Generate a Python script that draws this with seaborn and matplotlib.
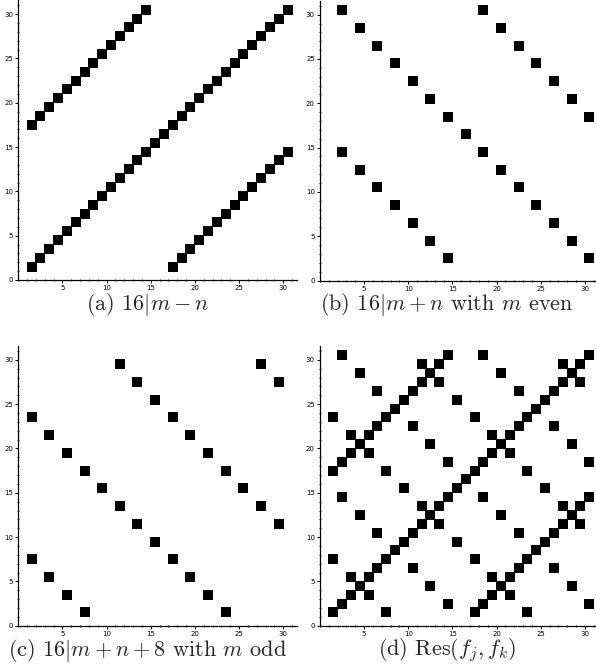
import matplotlib
matplotlib.use("Agg")
import matplotlib.pyplot as plt
import seaborn as sns
import pandas as pd
from matplotlib.ticker import MultipleLocator

# ---- data: (m, n) cells ----
a_m = [1, 2, 3, 4, 5, 6, 7, 8, 9, 10, 11, 12, 13, 14, 15, 16, 17, 18, 19, 20,
       21, 22, 23, 24, 25, 26, 27, 28, 29, 30,
       1, 2, 3, 4, 5, 6, 7, 8, 9, 10, 11, 12, 13, 14,
       17, 18, 19, 20, 21, 22, 23, 24, 25, 26, 27, 28, 29, 30]
a_n = [1, 2, 3, 4, 5, 6, 7, 8, 9, 10, 11, 12, 13, 14, 15, 16, 17, 18, 19, 20,
       21, 22, 23, 24, 25, 26, 27, 28, 29, 30,
       17, 18, 19, 20, 21, 22, 23, 24, 25, 26, 27, 28, 29, 30,
       1, 2, 3, 4, 5, 6, 7, 8, 9, 10, 11, 12, 13, 14]

b_m = [2, 4, 6, 8, 10, 12, 14, 16, 18, 20, 22, 24, 26, 28, 30,
       2, 4, 6, 8, 10, 12, 14,
       18, 20, 22, 24, 26, 28, 30]
b_n = [30, 28, 26, 24, 22, 20, 18, 16, 14, 12, 10, 8, 6, 4, 2,
       14, 12, 10, 8, 6, 4, 2,
       30, 28, 26, 24, 22, 20, 18]

c_m = [1, 3, 5, 7,
       1, 3, 5, 7, 9, 11, 13, 15, 17, 19, 21, 23,
       11, 13, 15, 17, 19, 21, 23, 25, 27, 29,
       27, 29]
c_n = [7, 5, 3, 1,
       23, 21, 19, 17, 15, 13, 11, 9, 7, 5, 3, 1,
       29, 27, 25, 23, 21, 19, 17, 15, 13, 11,
       29, 27]

d_m = a_m + b_m + c_m
d_n = a_n + b_n + c_n

captions = [r"(a) $16|m-n$",
            r"(b) $16|m+n$ with $m$ even",
            r"(c) $16|m+n+8$ with $m$ odd",
            r"(d) $\mathrm{Res}(f_j,f_k)$"]
x_ticks = [5, 10, 15, 20, 25, 30]
y_ticks = [0, 5, 10, 15, 20, 25, 30]

# ---- style ----
sns.set_style("ticks")
plt.rcParams["mathtext.fontset"] = "cm"
tick_family = ["Liberation Sans Narrow", "DejaVu Sans"]

W, H = 596, 665
fig = plt.figure(figsize=(W / 100, H / 100), dpi=100)

panels = [(a_m, a_n), (b_m, b_n), (c_m, c_n), (d_m, d_n)]
origins = [(18.3, 280.0), (320.0, 280.5), (18.3, 625.7), (320.0, 625.7)]
aw, ah = 279.0, 280.0
lim = 31.6
cap_pos = [(148, 310.5), (447, 310.5), (148, 655.5), (447, 655.5)]

for (mm, nn), (ox, oy), cap, (cx, cy) in zip(panels, origins, captions, cap_pos):
    ax = fig.add_axes([ox / W, (H - oy) / H, aw / W, ah / H])
    df = pd.DataFrame({"m": mm, "n": nn})
    df["x"] = df["m"] + 0.5
    df["y"] = df["n"] + 0.5
    sns.scatterplot(data=df, x="x", y="y", marker="s", s=44, color="black",
                    linewidth=0, ax=ax, legend=False)
    ax.set_xlim(0, lim)
    ax.set_ylim(0, lim)
    ax.set_xlabel("")
    ax.set_ylabel("")
    ax.set_xticks(x_ticks)
    ax.set_yticks(y_ticks)
    ax.xaxis.set_minor_locator(MultipleLocator(1))
    ax.yaxis.set_minor_locator(MultipleLocator(1))
    for sp in ["top", "right"]:
        ax.spines[sp].set_visible(False)
    for sp in ["left", "bottom"]:
        ax.spines[sp].set_linewidth(0.9)
        ax.spines[sp].set_color("black")
    ax.tick_params(which="major", direction="out", length=2.5, width=0.7,
                   colors="black", labelsize=5, pad=1.2)
    ax.tick_params(which="minor", direction="inout", length=1.6, width=0.6,
                   colors="black")
    for lab in ax.get_xticklabels() + ax.get_yticklabels():
        lab.set_family(tick_family)
    fig.text(cx / W, 1 - cy / H, cap, ha="center", va="baseline", fontsize=16,
             family="cmr10")

fig.savefig("out.png", dpi=100)
